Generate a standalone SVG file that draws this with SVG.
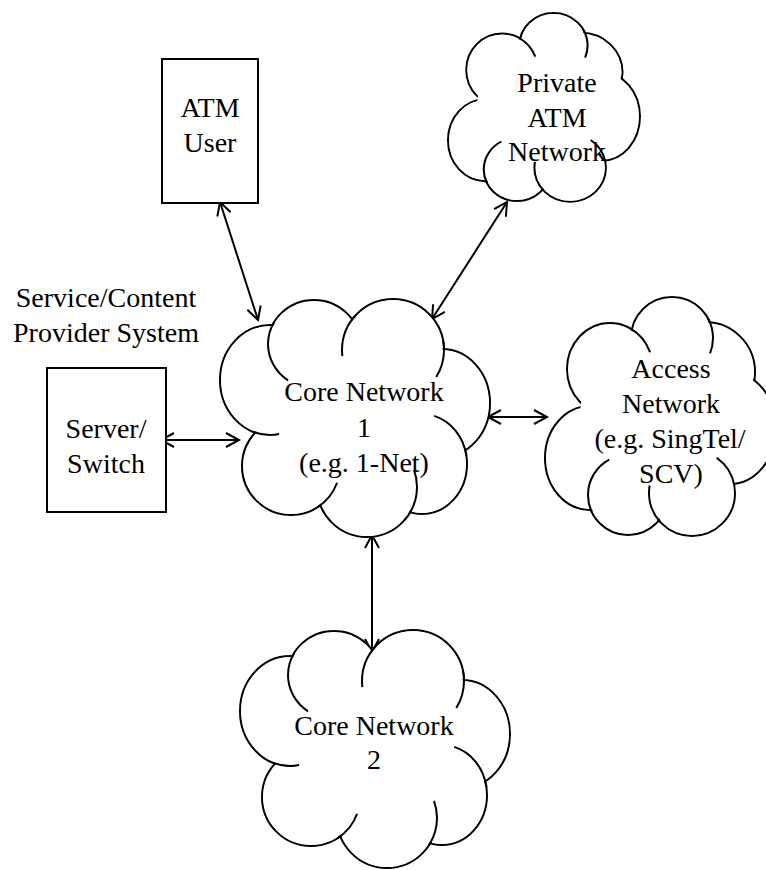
<svg xmlns="http://www.w3.org/2000/svg" width="766" height="870" viewBox="0 0 766 870">
<style>
.bump{fill:#fff;stroke:#000;stroke-width:2}
.hole{fill:#fff;stroke:none}
.tail{fill:none;stroke:#000;stroke-width:2}
.pv .bump,.pv .tail{stroke-width:2.45}
.box{fill:#fff;stroke:#000;stroke-width:2}
.lbl{font-family:"Liberation Serif","Times New Roman",serif;font-size:28px;fill:#000;text-anchor:middle}
.conn line{stroke:#000;stroke-width:2;fill:none;marker-start:url(#ah);marker-end:url(#ah)}
</style>
<defs>
<marker id="ah" viewBox="-14 -8 18 16" refX="0" refY="0" markerWidth="18" markerHeight="16" markerUnits="userSpaceOnUse" orient="auto-start-reverse">
<path d="M-13,-7 L0,0 L-13,7" fill="none" stroke="#000" stroke-width="2"/>
</marker>
</defs>
<rect width="766" height="870" fill="#fff"/>

<g id="connectors" class="conn">
<line x1="220" y1="202" x2="258" y2="320"/>
<line x1="507" y1="202" x2="432" y2="319"/>
<line x1="161" y1="440" x2="239" y2="440"/>
<line x1="488" y1="417" x2="547" y2="417"/>
<line x1="372" y1="535" x2="372" y2="652"/>
</g>

<g id="atm-user">
<rect class="box" x="162" y="59" width="96" height="144"/>
<text class="lbl" x="210" y="117">ATM</text>
<text class="lbl" x="210" y="152">User</text>
</g>

<g id="server-switch">
<text class="lbl" x="106" y="307">Service/Content</text>
<text class="lbl" x="106" y="342">Provider System</text>
<rect class="box" x="47" y="368" width="119" height="144"/>
<text class="lbl" x="106" y="438">Server/</text>
<text class="lbl" x="106" y="473">Switch</text>
</g>

<g id="private-atm-network">
<g class="pv" transform="translate(448,13) scale(0.831,0.79) translate(-545,-297)">
<ellipse class="bump" cx="610" cy="369" rx="43" ry="46"/>
<circle class="bump" cx="672" cy="338" r="41"/>
<circle class="bump" cx="705" cy="372" r="50"/>
<ellipse class="bump" cx="730" cy="428" rx="46" ry="56"/>
<circle class="bump" cx="692" cy="493" r="43"/>
<circle class="bump" cx="628" cy="495" r="40"/>
<ellipse class="bump" cx="590" cy="458" rx="45" ry="52"/>
<ellipse class="hole" cx="610" cy="369" rx="41.6" ry="44.6"/>
<circle class="hole" cx="672" cy="338" r="39.6"/>
<circle class="hole" cx="705" cy="372" r="48.6"/>
<ellipse class="hole" cx="730" cy="428" rx="44.6" ry="54.6"/>
<circle class="hole" cx="692" cy="493" r="41.6"/>
<circle class="hole" cx="628" cy="495" r="38.6"/>
<ellipse class="hole" cx="590" cy="458" rx="43.6" ry="50.6"/>
<ellipse class="hole" cx="660" cy="415" rx="80" ry="75"/>
<ellipse class="tail" cx="610" cy="369" rx="43" ry="46" pathLength="360" stroke-dasharray="40 320" stroke-dashoffset="62"/>
<circle class="tail" cx="672" cy="338" r="41" pathLength="360" stroke-dasharray="50 310" stroke-dashoffset="28"/>
<circle class="tail" cx="692" cy="493" r="43" pathLength="360" stroke-dasharray="45 315" stroke-dashoffset="55"/>
<circle class="tail" cx="692" cy="493" r="43" pathLength="360" stroke-dasharray="52 308" stroke-dashoffset="222"/>
<circle class="tail" cx="628" cy="495" r="40" pathLength="360" stroke-dasharray="87 273" stroke-dashoffset="205"/>
</g>
<text class="lbl" x="557" y="92">Private</text>
<text class="lbl" x="557" y="127">ATM</text>
<text class="lbl" x="557" y="161">Network</text>
</g>

<g id="access-network">
<g>
<ellipse class="bump" cx="610" cy="369" rx="43" ry="46"/>
<circle class="bump" cx="672" cy="338" r="41"/>
<circle class="bump" cx="705" cy="372" r="50"/>
<ellipse class="bump" cx="730" cy="428" rx="46" ry="56"/>
<circle class="bump" cx="692" cy="493" r="43"/>
<circle class="bump" cx="628" cy="495" r="40"/>
<ellipse class="bump" cx="590" cy="458" rx="45" ry="52"/>
<ellipse class="hole" cx="610" cy="369" rx="41.7" ry="44.7"/>
<circle class="hole" cx="672" cy="338" r="39.7"/>
<circle class="hole" cx="705" cy="372" r="48.7"/>
<ellipse class="hole" cx="730" cy="428" rx="44.7" ry="54.7"/>
<circle class="hole" cx="692" cy="493" r="41.7"/>
<circle class="hole" cx="628" cy="495" r="38.7"/>
<ellipse class="hole" cx="590" cy="458" rx="43.7" ry="50.7"/>
<ellipse class="hole" cx="660" cy="415" rx="80" ry="75"/>
<ellipse class="tail" cx="610" cy="369" rx="43" ry="46" pathLength="360" stroke-dasharray="40 320" stroke-dashoffset="62"/>
<circle class="tail" cx="672" cy="338" r="41" pathLength="360" stroke-dasharray="50 310" stroke-dashoffset="28"/>
<circle class="tail" cx="692" cy="493" r="43" pathLength="360" stroke-dasharray="45 315" stroke-dashoffset="55"/>
<circle class="tail" cx="692" cy="493" r="43" pathLength="360" stroke-dasharray="52 308" stroke-dashoffset="222"/>
<circle class="tail" cx="628" cy="495" r="40" pathLength="360" stroke-dasharray="87 273" stroke-dashoffset="205"/>
</g>
<text class="lbl" x="671" y="378">Access</text>
<text class="lbl" x="671" y="413">Network</text>
<text class="lbl" x="670" y="448">(e.g. SingTel/</text>
<text class="lbl" x="671" y="483">SCV)</text>
</g>

<g id="core-network-1">
<g transform="translate(-20,-331)">
<ellipse class="bump" cx="334" cy="675" rx="46" ry="44"/>
<circle class="bump" cx="413" cy="681" r="51"/>
<ellipse class="bump" cx="462" cy="734" rx="48" ry="54"/>
<ellipse class="bump" cx="442" cy="795" rx="45" ry="50"/>
<circle class="bump" cx="387" cy="818" r="50"/>
<circle class="bump" cx="311" cy="797" r="49"/>
<ellipse class="bump" cx="290" cy="711" rx="50" ry="55"/>
<ellipse class="hole" cx="334" cy="675" rx="44.7" ry="42.7"/>
<circle class="hole" cx="413" cy="681" r="49.7"/>
<ellipse class="hole" cx="462" cy="734" rx="46.7" ry="52.7"/>
<ellipse class="hole" cx="442" cy="795" rx="43.7" ry="48.7"/>
<circle class="hole" cx="387" cy="818" r="48.7"/>
<circle class="hole" cx="311" cy="797" r="47.7"/>
<ellipse class="hole" cx="290" cy="711" rx="48.7" ry="53.7"/>
<ellipse class="hole" cx="375" cy="750" rx="95" ry="85"/>
<ellipse class="tail" cx="334" cy="675" rx="46" ry="44" pathLength="360" stroke-dasharray="85 275" stroke-dashoffset="235"/>
<circle class="tail" cx="413" cy="681" r="51" pathLength="360" stroke-dasharray="50 310" stroke-dashoffset="187"/>
<circle class="tail" cx="413" cy="681" r="51" pathLength="360" stroke-dasharray="42 318" stroke-dashoffset="10"/>
<ellipse class="tail" cx="442" cy="795" rx="45" ry="50" pathLength="360" stroke-dasharray="65 295" stroke-dashoffset="75"/>
<circle class="tail" cx="387" cy="818" r="50" pathLength="360" stroke-dasharray="53 307" stroke-dashoffset="20"/>
<circle class="tail" cx="311" cy="797" r="49" pathLength="360" stroke-dasharray="37 323" stroke-dashoffset="340"/>
<ellipse class="tail" cx="290" cy="711" rx="50" ry="55" pathLength="360" stroke-dasharray="30 330" stroke-dashoffset="280"/>
</g>
<text class="lbl" x="364" y="401">Core Network</text>
<text class="lbl" x="364" y="437">1</text>
<text class="lbl" x="364" y="472">(e.g. 1-Net)</text>
</g>

<g id="core-network-2">
<g>
<ellipse class="bump" cx="334" cy="675" rx="46" ry="44"/>
<circle class="bump" cx="413" cy="681" r="51"/>
<ellipse class="bump" cx="462" cy="734" rx="48" ry="54"/>
<ellipse class="bump" cx="442" cy="795" rx="45" ry="50"/>
<circle class="bump" cx="387" cy="818" r="50"/>
<circle class="bump" cx="311" cy="797" r="49"/>
<ellipse class="bump" cx="290" cy="711" rx="50" ry="55"/>
<ellipse class="hole" cx="334" cy="675" rx="44.7" ry="42.7"/>
<circle class="hole" cx="413" cy="681" r="49.7"/>
<ellipse class="hole" cx="462" cy="734" rx="46.7" ry="52.7"/>
<ellipse class="hole" cx="442" cy="795" rx="43.7" ry="48.7"/>
<circle class="hole" cx="387" cy="818" r="48.7"/>
<circle class="hole" cx="311" cy="797" r="47.7"/>
<ellipse class="hole" cx="290" cy="711" rx="48.7" ry="53.7"/>
<ellipse class="hole" cx="375" cy="750" rx="95" ry="85"/>
<ellipse class="tail" cx="334" cy="675" rx="46" ry="44" pathLength="360" stroke-dasharray="85 275" stroke-dashoffset="235"/>
<circle class="tail" cx="413" cy="681" r="51" pathLength="360" stroke-dasharray="50 310" stroke-dashoffset="187"/>
<circle class="tail" cx="413" cy="681" r="51" pathLength="360" stroke-dasharray="42 318" stroke-dashoffset="10"/>
<ellipse class="tail" cx="442" cy="795" rx="45" ry="50" pathLength="360" stroke-dasharray="65 295" stroke-dashoffset="75"/>
<circle class="tail" cx="387" cy="818" r="50" pathLength="360" stroke-dasharray="53 307" stroke-dashoffset="20"/>
<circle class="tail" cx="311" cy="797" r="49" pathLength="360" stroke-dasharray="37 323" stroke-dashoffset="340"/>
<ellipse class="tail" cx="290" cy="711" rx="50" ry="55" pathLength="360" stroke-dasharray="30 330" stroke-dashoffset="280"/>
</g>
<text class="lbl" x="374" y="735">Core Network</text>
<text class="lbl" x="374" y="769">2</text>
</g>
</svg>
